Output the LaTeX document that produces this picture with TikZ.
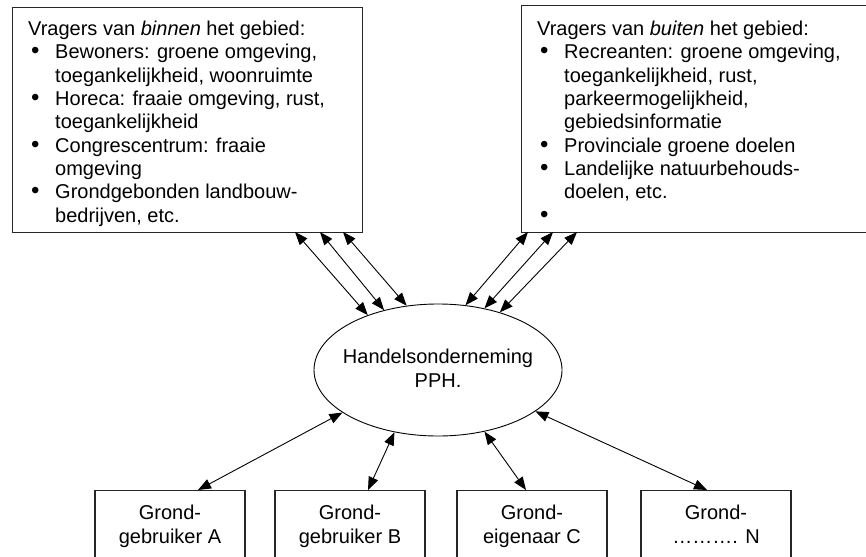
\documentclass[tikz,border=0pt]{standalone}
\usepackage{fontspec}
\setmainfont{Liberation Sans}
\usetikzlibrary{arrows.meta,shapes.geometric}
\newcommand{\itmark}{\hspace*{3pt}\makebox[24pt][l]{\fontsize{24}{24}\selectfont\textbullet}}
\newcommand{\itind}{\hspace*{27pt}}
\begin{document}
\begin{tikzpicture}[x=1pt,y=-1pt,
  frame/.style={draw=black!85,line width=1.2pt,inner sep=0pt,anchor=north west},
  txt/.style={inner sep=0pt,align=left,anchor=north west,font=\fontsize{20}{23.3}\selectfont},
  ctxt/.style={inner sep=0pt,align=center,anchor=north,font=\fontsize{20}{24}\selectfont},
  dbl/.style={{Triangle[length=13pt,width=10pt]}-{Triangle[length=13pt,width=10pt]},line width=0.9pt},
  gbox/.style={draw=black!85,line width=1.2pt,anchor=north,minimum width=150pt,minimum height=80pt,inner sep=0pt}
]
\clip (0,0) rectangle (866,556);
\fill[white] (0,0) rectangle (866,556);

% top boxes
\node[frame,minimum width=350pt,minimum height=225pt] (lbox) at (12,7) {};
\node[txt] (ltxt) at (28,21) {Vragers van \textit{binnen} het gebied:\\
\itmark Bewoners: groene omgeving,\\
\itind toegankelijkheid, woonruimte\\
\itmark Horeca: fraaie omgeving, rust,\\
\itind toegankelijkheid\\
\itmark Congrescentrum: fraaie\\
\itind omgeving\\
\itmark Grondgebonden landbouw-\\
\itind bedrijven, etc.};

\node[frame,minimum width=350pt,minimum height=227pt] (rbox) at (521,5) {};
\node[txt] (rtxt) at (537,21) {Vragers van \textit{buiten} het gebied:\\
\itmark Recreanten: groene omgeving,\\
\itind toegankelijkheid, rust,\\
\itind parkeermogelijkheid,\\
\itind gebiedsinformatie\\
\itmark Provinciale groene doelen\\
\itmark Landelijke natuurbehouds-\\
\itind doelen, etc.\\
\itmark};

% ellipse
\node[draw,ellipse,minimum width=248pt,minimum height=132pt,inner sep=0pt,line width=0.9pt] (ell) at (438,370) {};
\node[ctxt] (etxt) at (438,348.5) {Handelsonderneming\\PPH.};

% bottom boxes
\node[gbox] (bA) at (170,490) {};
\node[gbox] (bB) at (350,490) {};
\node[gbox] (bC) at (532,490) {};
\node[gbox] (bN) at (716,490) {};
\node[ctxt] (tA) at (170,504.5) {Grond-\\gebruiker A};
\node[ctxt] (tB) at (350,504.5) {Grond-\\gebruiker B};
\node[ctxt] (tC) at (532,504.5) {Grond-\\eigenaar C};
\node[ctxt] (tN) at (716,504.5) {Grond-\\………. N};

% connector endpoints on boxes
\coordinate (l1) at (295,232);
\coordinate (l2) at (320,232);
\coordinate (l3) at (343,232);
\coordinate (r1) at (528,232);
\coordinate (r2) at (553,232);
\coordinate (r3) at (577,232);
\coordinate (pA) at (198,490);
\coordinate (pB) at (368,490);
\coordinate (pC) at (526,490);
\coordinate (pN) at (707,490);

\draw[dbl] (l1) -- (ell.142);
\draw[dbl] (l2) -- (ell.132);
\draw[dbl] (l3) -- (ell.116);
\draw[dbl] (r1) -- (ell.67);
\draw[dbl] (r2) -- (ell.53);
\draw[dbl] (r3) -- (ell.43);
\draw[dbl] (pA) -- (ell.204);
\draw[dbl] (pB) -- (ell.235);
\draw[dbl] (pC) -- (ell.307);
\draw[dbl] (pN) -- (ell.337);
\end{tikzpicture}
\end{document}
